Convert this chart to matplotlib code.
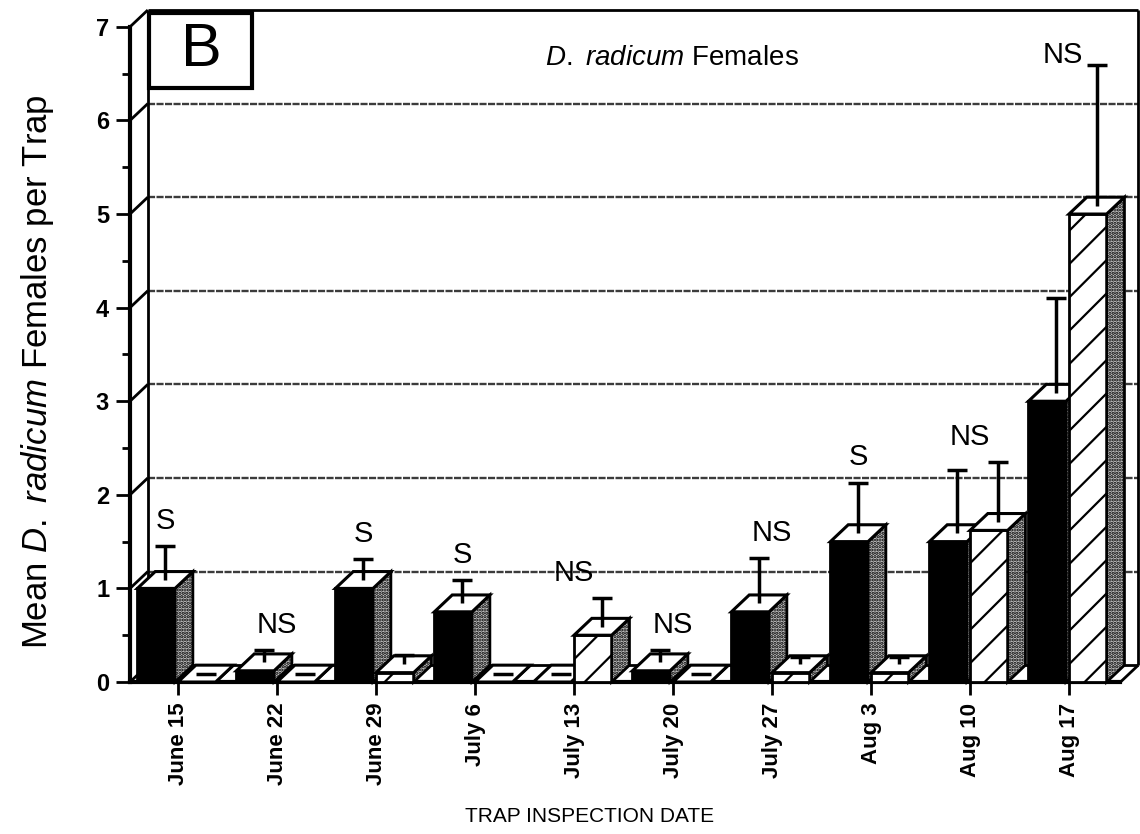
import matplotlib
matplotlib.use('Agg')
import matplotlib.pyplot as plt
from matplotlib.patches import Polygon, Rectangle
import numpy as np

plt.rcParams['font.family'] = ['Liberation Sans', 'DejaVu Sans']
plt.rcParams['mathtext.fontset'] = 'custom'
plt.rcParams['mathtext.rm'] = 'Liberation Sans'
plt.rcParams['mathtext.it'] = 'Liberation Sans:italic'
plt.rcParams['hatch.linewidth'] = 1.6

# data (mean flies per trap and upper SE)
dates = ['June 15', 'June 22', 'June 29', 'July 6', 'July 13',
         'July 20', 'July 27', 'Aug 3', 'Aug 10', 'Aug 17']
black_means = [1.0, 0.12, 1.0, 0.75, 0.0, 0.12, 0.75, 1.5, 1.5, 3.0]
black_err = [0.36, 0.13, 0.22, 0.25, 0.0, 0.13, 0.48, 0.54, 0.67, 1.01]
hatched_means = [0.0, 0.0, 0.1, 0.0, 0.5, 0.0, 0.1, 0.1, 1.62, 5.0]
hatched_err = [0.0, 0.0, 0.1, 0.0, 0.31, 0.0, 0.08, 0.08, 0.64, 1.5]
signif = ['S', 'NS', 'S', 'S', 'NS', 'NS', 'NS', 'S', 'NS', 'NS']

# 3-D look
DX = 0.18   # depth along x (category units)
DY = 0.18   # depth along y (value units)
W = 0.38    # front width of a bar
X0, X1 = -0.485, 9.717
XR = 9.70   # right wall
YTOP = 7

fig = plt.figure(figsize=(11.4, 8.34), dpi=100)
ax = fig.add_axes([130 / 1140, 152 / 834, 1010 / 1140, 672 / 834])
ax.set_xlim(X0, X1)
ax.set_ylim(0, YTOP + DY)

wall = dict(color='black', lw=2, clip_on=False, zorder=2, solid_capstyle='butt')
# back wall grid
for k in range(1, YTOP):
    ax.plot([X0 + DX, XR], [k + DY, k + DY], color='#3c3c3c', lw=1.7,
            ls=(0, (3, 0.6)), zorder=1, clip_on=False)
ax.plot([X0 + DX, XR], [YTOP + DY] * 2, **wall)
ax.plot([X0 + DX] * 2, [DY, YTOP + DY], **wall)
for k in range(YTOP + 1):
    ax.plot([X0, X0 + DX], [k, k + DY], **wall)
ax.plot([X0 + DX, XR], [DY, DY], **wall)
ax.plot([XR, XR], [DY, YTOP + DY], **wall)
ax.plot([XR - DX, XR], [0, DY], **wall)

for s in ['top', 'right']:
    ax.spines[s].set_visible(False)
ax.spines['left'].set_linewidth(3)
ax.spines['left'].set_bounds(0, YTOP)
ax.spines['bottom'].set_linewidth(3)
ax.spines['bottom'].set_bounds(X0, XR - DX)

ax.set_yticks(range(YTOP + 1))
ax.set_yticks(np.arange(0.5, YTOP, 1), minor=True)
ax.set_yticklabels([str(k) for k in range(YTOP + 1)], fontsize=17, fontweight='bold')
ax.tick_params(axis='y', which='major', direction='out', length=10, width=2, pad=5)
ax.tick_params(axis='y', which='minor', direction='out', length=6, width=2)
ax.set_xticks(range(len(dates)))
ax.set_xticklabels(dates, rotation=90, fontsize=16, fontweight='bold')
ax.tick_params(axis='x', direction='out', length=9, width=2, pad=6)


def draw_bar(left, h, err, face, hatch):
    z = 3
    ax.add_patch(Rectangle((left, 0), W, h, facecolor=face, hatch=hatch,
                           edgecolor='black', lw=2, zorder=z, clip_on=False))
    side = [(left + W, 0), (left + W + DX, DY), (left + W + DX, h + DY), (left + W, h)]
    ax.add_patch(Polygon(side, closed=True, facecolor='#c4c4c4', hatch='.....',
                         edgecolor='black', lw=2, zorder=z, clip_on=False))
    top = [(left, h), (left + W, h), (left + W + DX, h + DY), (left + DX, h + DY)]
    ax.add_patch(Polygon(top, closed=True, facecolor='white', edgecolor='black',
                         lw=2.2, zorder=z, clip_on=False))
    xe = left + W / 2 + DX / 2
    ye = h + DY / 2 + err
    ax.vlines(xe, h + DY / 2, ye, color='black', lw=2.5, zorder=z)
    ax.hlines(ye, xe - 0.1, xe + 0.1, color='black', lw=2.5, zorder=z)
    return xe, ye


for i in range(len(dates)):
    xb, tb = draw_bar(i - 0.41, black_means[i], black_err[i], 'black', None)
    xh, th = draw_bar(i, hatched_means[i], hatched_err[i], 'white', '/')
    top = max(tb, th)
    if signif[i] == 'S':
        xs = xb if tb >= th else xh
    else:
        xs = i
    if top + 0.5 > YTOP:
        # no room above: put it left of the cap
        ax.text(xh - 0.14, top - 0.04, signif[i], ha='right', va='bottom',
                fontsize=21, zorder=5)
    else:
        ax.text(xs, top + 0.12, signif[i], ha='center', va='bottom',
                fontsize=21, zorder=5)

# panel letter and title
ax.add_patch(Rectangle((-0.293, 6.35), 1.04, 0.80, facecolor='white',
                       edgecolor='black', lw=3, zorder=4, clip_on=False))
ax.text(0.24, 6.75, 'B', ha='center', va='center', fontsize=44, zorder=5)
ax.text(4.99, 6.67, r'$\mathit{D.\ radicum}$ Females', ha='center',
        va='center', fontsize=20, zorder=5)

fig.text(590 / 1140, 1 - 817 / 834, 'TRAP INSPECTION DATE', ha='center',
         va='center', fontsize=15)
fig.text(38 / 1140, 1 - 372 / 834, r'Mean $\mathit{D.\ radicum}$ Females per Trap',
         ha='center', va='center', rotation=90, fontsize=25)

fig.savefig('out.png', dpi=100)
